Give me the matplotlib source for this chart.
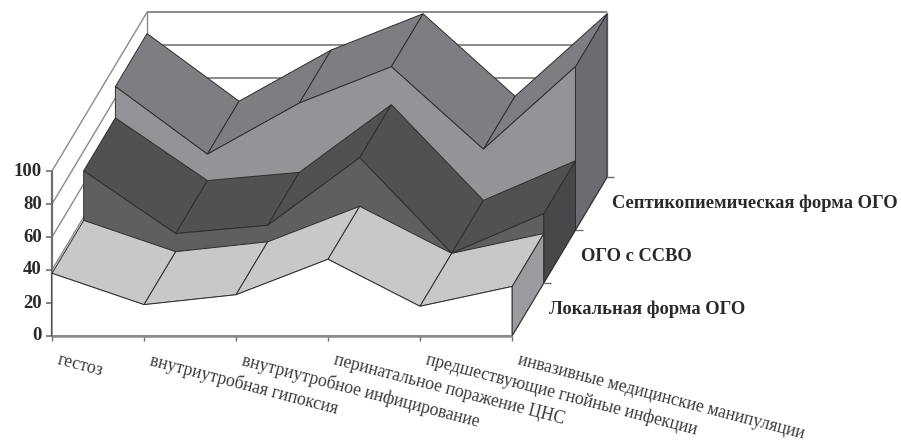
import matplotlib
matplotlib.use("Agg")
import matplotlib.pyplot as plt
from matplotlib.patches import Polygon

categories = [
    "гестоз",
    "внутриутробная гипоксия",
    "внутриутробное инфицирование",
    "перинатальное поражение ЦНС",
    "предшествующие гнойные инфекции",
    "инвазивные медицинские манипуляции",
]
series_names = ["Локальная форма ОГО", "ОГО с ССВО", "Септикопиемическая форма ОГО"]
local_form = [38, 19, 25, 46.5, 18, 30]
ogo_ssvo = [68, 30, 35, 76, 18, 42]
septic_form = [87, 46, 77, 99, 49, 99]
y_ticks = [0, 20, 40, 60, 80, 100]

# colours per series: front face, top surface, right side
front_colors = ["#ffffff", "#5f5f62", "#949498"]
top_colors = ["#c8c8ca", "#515153", "#7e7e82"]
side_colors = ["#9c9ca0", "#48484a", "#6c6c70"]

EDGE = "#2e2e30"
WALL = "#8a8a8a"
TEXT = "#2a2a2a"

# one step of depth on the screen, in category / value units
DX = 0.3445
DY = 32.1


def pt(cat, depth, value):
    return (cat + depth * DX, value + depth * DY)


def quad(ax, pts, color, z):
    ax.add_patch(Polygon(pts, closed=True, facecolor=color, edgecolor=EDGE, linewidth=0.7, zorder=z))


def line(ax, a, b, lw=1.0, color=WALL, z=1):
    ax.plot([a[0], b[0]], [a[1], b[1]], color=color, lw=lw, zorder=z, solid_capstyle="butt")


fig = plt.figure(figsize=(9.01, 4.41), dpi=100)
ax = fig.add_axes([0, 0, 1, 1])
ax.set_xlim(-52 / 92, (901 - 52) / 92)
ax.set_ylim(-105 / 1.65, 336 / 1.65)
ax.axis("off")

last = len(categories) - 1
n_depth = len(series_names)

# walls
for v in y_ticks:
    line(ax, pt(0, 0, v), pt(0, n_depth, v))
    line(ax, pt(0, n_depth, v), pt(last, n_depth, v), lw=1.4)
line(ax, pt(0, n_depth, 0), pt(0, n_depth, 100))
line(ax, pt(last, n_depth, 0), pt(last, n_depth, 100))

# floor edges and axes
line(ax, pt(0, 0, 0), pt(0, 0, 100), lw=1.6, color="#6e6e6e", z=8)
line(ax, pt(last, 0, 0), pt(last, n_depth, 0), lw=1.0, color="#6e6e6e", z=2)
for v in y_ticks:
    x, y = pt(0, 0, v)
    line(ax, (x - 0.07, y), (x, y), lw=1.2, color="#6e6e6e", z=8)
    ax.text(x - 0.11, y, str(v), ha="right", va="center", family="Liberation Serif",
            weight="bold", fontsize=13.5, color=TEXT)
for i in range(len(categories)):
    x, y = pt(i, 0, 0)
    line(ax, (x, y - 3.2), (x, y), lw=1.0, color="#6e6e6e", z=8)
    ax.text(x + 0.065, y - 14.5, categories[i], rotation=-14.6, rotation_mode="anchor",
            ha="left", va="center", family="Liberation Serif", fontsize=12.7, color="#3a3a3a")
for d in range(1, n_depth + 1):
    x, y = pt(last, d, 0)
    line(ax, (x, y), (x + 0.08, y), lw=1.0, color="#6e6e6e", z=2)

# series, back to front
all_values = [local_form, ogo_ssvo, septic_form]
for d in reversed(range(n_depth)):
    values = all_values[d]
    z = 10 + (n_depth - d) * 10
    # right side
    quad(ax, [pt(last, d, 0), pt(last, d + 1, 0), pt(last, d + 1, values[last]), pt(last, d, values[last])],
         side_colors[d], z)
    # top surface
    for i in range(last):
        quad(ax, [pt(i, d, values[i]), pt(i + 1, d, values[i + 1]),
                  pt(i + 1, d + 1, values[i + 1]), pt(i, d + 1, values[i])],
             top_colors[d], z + 1)
    # front face
    face = [pt(0, d, 0)] + [pt(i, d, values[i]) for i in range(len(values))] + [pt(last, d, 0)]
    quad(ax, face, front_colors[d], z + 2)

line(ax, pt(0, 0, 0), pt(last, 0, 0), lw=1.8, color="#8a8a8a", z=50)

# depth labels
for d in range(n_depth):
    x, y = pt(last, d + 0.5, 0)
    ax.text(x + 0.23, y, series_names[d], ha="left", va="center", family="Liberation Serif",
            weight="bold", fontsize=13.3, color=TEXT)

fig.savefig("out.png", dpi=100)
